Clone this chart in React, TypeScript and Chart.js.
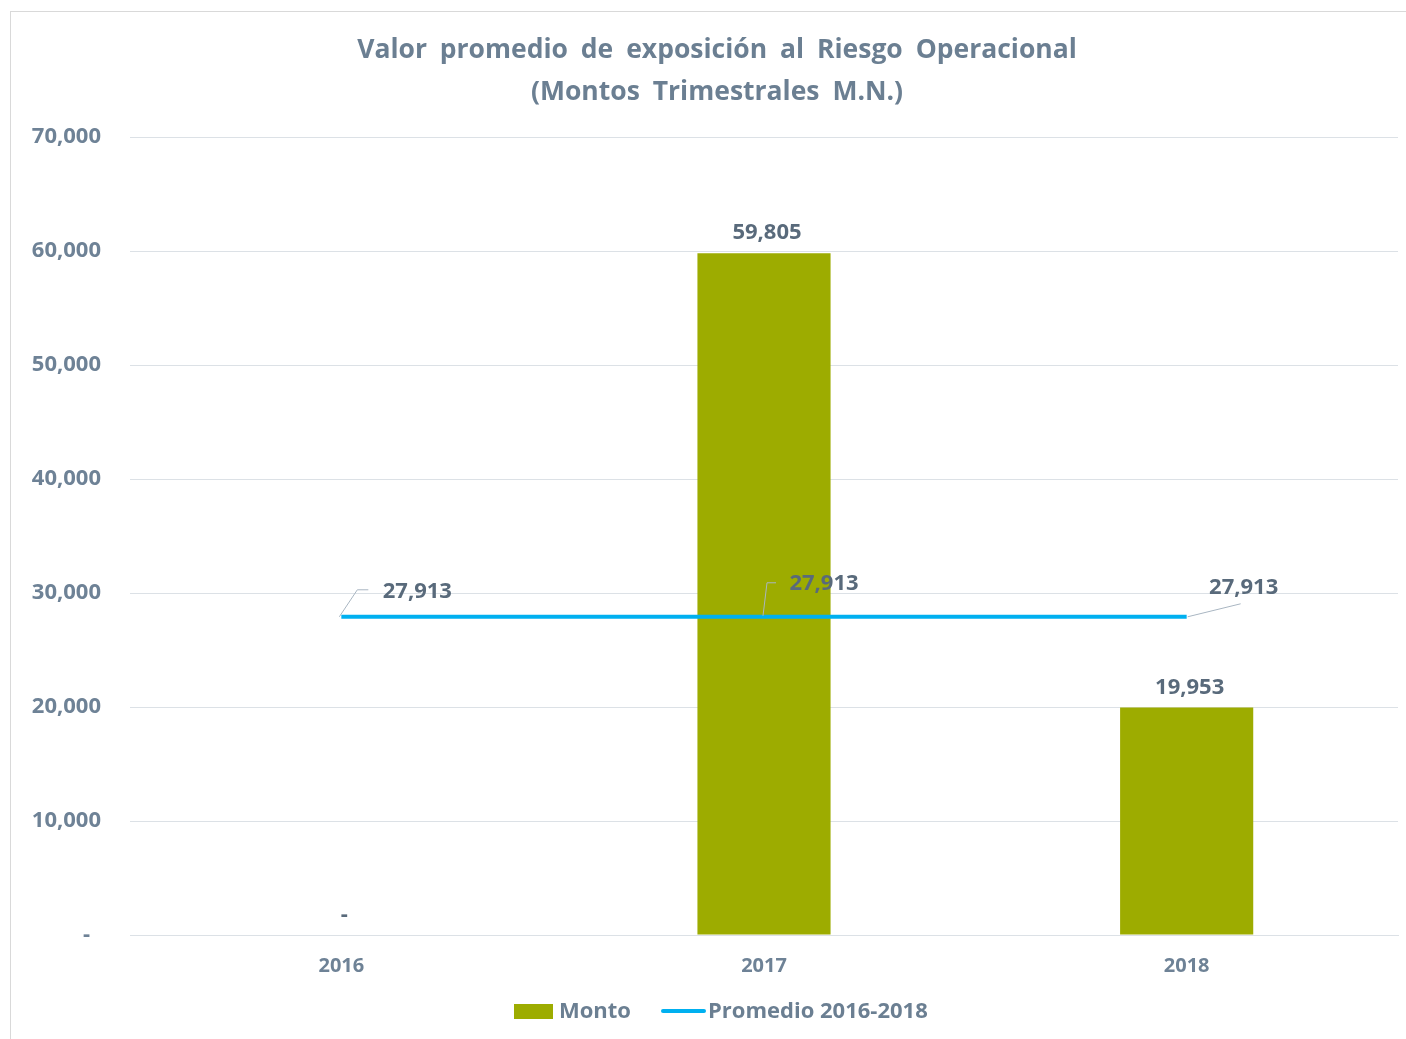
import React, { useEffect, useRef } from "react";
import { Chart, registerables } from "chart.js";

Chart.register(...registerables);

const categories = ["2016", "2017", "2018"];
const montoValues = [0, 59805, 19953];
const promedioValues = [27913, 27913, 27913];
const yTicks = [0, 10000, 20000, 30000, 40000, 50000, 60000, 70000];
const titleLines = ["Valor promedio de exposición al Riesgo Operacional", "(Montos Trimestrales M.N.)"];
const seriesNames = ["Monto", "Promedio 2016-2018"];

const FONT = "'Open Sans', 'Noto Sans', sans-serif";
const TITLE_COLOR = "#6B7F92";
const TICK_COLOR = "#6E8296";
const LABEL_COLOR = "#596A7B";
const GRID_COLOR = "#DCE1E6";
const BAR_COLOR = "#9DAC00";
const LINE_COLOR = "#00B0F0";

const fmt = (v: number) => (v === 0 ? "-" : v.toLocaleString("en-US"));

const titlePlugin = {
  id: "customTitle",
  afterDraw(chart: any) {
    const ctx = chart.ctx;
    ctx.save();
    ctx.font = `bold 26.5px ${FONT}`;
    ctx.fillStyle = TITLE_COLOR;
    ctx.textAlign = "center";
    ctx.textBaseline = "middle";
    try {
      (ctx as any).wordSpacing = "6px";
    } catch (e) {}
    titleLines.forEach((t, i) => ctx.fillText(t, 717, 50 + i * 42));
    ctx.restore();
  },
};

const legendPlugin = {
  id: "customLegend",
  afterDraw(chart: any) {
    const ctx = chart.ctx;
    const ds = chart.data.datasets;
    ctx.save();
    ctx.font = `bold 22px ${FONT}`;
    ctx.fillStyle = TITLE_COLOR;
    ctx.textAlign = "left";
    ctx.textBaseline = "middle";
    const y = 1011;
    ctx.fillStyle = ds[0].backgroundColor;
    ctx.fillRect(514, y - 7, 39, 15);
    ctx.fillStyle = TITLE_COLOR;
    ctx.fillText(ds[0].label, 559, y + 1);
    ctx.strokeStyle = ds[1].borderColor;
    ctx.lineWidth = 4;
    ctx.lineCap = "round";
    ctx.beginPath();
    ctx.moveTo(663, y);
    ctx.lineTo(704, y);
    ctx.stroke();
    ctx.fillStyle = TITLE_COLOR;
    ctx.fillText(ds[1].label, 708, y + 1);
    ctx.restore();
  },
};

const labelsPlugin = {
  id: "customLabels",
  afterDatasetsDraw(chart: any) {
    const ctx = chart.ctx;
    ctx.save();
    ctx.font = `bold 22px ${FONT}`;
    ctx.fillStyle = LABEL_COLOR;
    ctx.textAlign = "center";
    ctx.textBaseline = "middle";
    const barMeta = chart.getDatasetMeta(0);
    barMeta.data.forEach((el: any, i: number) => {
      ctx.fillText(fmt(montoValues[i]), el.x + 3, el.y - 20);
    });
    const lineMeta = chart.getDatasetMeta(1);
    const leaders = [
      { pts: [[-2, 0], [16, -27], [27, -27]], tx: 76, ty: -25 },
      { pts: [[-1, -1], [3, -34], [12, -34]], tx: 60, ty: -33 },
      { pts: [[1, 0], [54, -13]], tx: 57, ty: -29 },
    ];
    lineMeta.data.forEach((el: any, i: number) => {
      const L = leaders[i];
      ctx.strokeStyle = "#A9B6C2";
      ctx.lineWidth = 1;
      ctx.beginPath();
      L.pts.forEach((p: number[], j: number) => {
        const x = el.x + p[0];
        const y = el.y + p[1];
        if (j === 0) ctx.moveTo(x, y);
        else ctx.lineTo(x, y);
      });
      ctx.stroke();
      ctx.fillStyle = LABEL_COLOR;
      ctx.fillText(fmt(promedioValues[i]), el.x + L.tx, el.y + L.ty);
    });
    ctx.restore();
  },
};

export default function App() {
  const canvasRef = useRef<HTMLCanvasElement>(null);

  useEffect(() => {
    if (!canvasRef.current) return;
    Chart.defaults.font.family = FONT;
    const chart = new Chart(canvasRef.current, {
      type: "bar",
      data: {
        labels: categories,
        datasets: [
          {
            type: "bar",
            label: seriesNames[0],
            data: montoValues,
            backgroundColor: BAR_COLOR,
            borderWidth: 0,
            barPercentage: 0.315,
            categoryPercentage: 1,
            order: 1,
          } as any,
          {
            type: "line",
            label: seriesNames[1],
            data: promedioValues,
            borderColor: LINE_COLOR,
            backgroundColor: LINE_COLOR,
            borderWidth: 4,
            pointRadius: 0,
            order: 0,
          } as any,
        ],
      },
      plugins: [labelsPlugin, titlePlugin, legendPlugin],
      options: {
        animation: false,
        responsive: true,
        maintainAspectRatio: false,
        layout: { padding: { left: 0, right: 8, top: 137, bottom: 49 } },
        plugins: {
          tooltip: { enabled: false },
          title: { display: false },
          legend: { display: false },
        },
        scales: {
          x: {
            grid: { display: false, drawTicks: false },
            border: { display: true, color: GRID_COLOR, width: 1 },
            ticks: { color: TICK_COLOR, font: { size: 20, weight: "bold" }, padding: 19 },
            afterFit: (s: any) => {
              s.height = 55;
            },
          },
          y: {
            min: 0,
            max: 70000,
            afterBuildTicks: (s: any) => {
              s.ticks = yTicks.map((v) => ({ value: v }));
            },
            grid: { color: GRID_COLOR, lineWidth: 1, drawTicks: false },
            border: { display: false },
            ticks: {
              color: TICK_COLOR,
              font: { size: 22, weight: "bold" },
              padding: 29,
              callback: (v: any) => (Number(v) === 0 ? "-\u2002" : fmt(Number(v))),
            },
            afterFit: (s: any) => {
              s.width = 130;
            },
          },
        },
      },
    });
    return () => chart.destroy();
  }, []);

  return (
    <div style={{ position: "absolute", left: 0, top: 0, width: 1406, height: 1039, background: "#fff" }}>
      <div style={{ position: "absolute", left: 10, top: 11, width: 1396, height: 1, background: "#D9D9D9" }} />
      <div style={{ position: "absolute", left: 10, top: 11, width: 1, height: 1028, background: "#D9D9D9" }} />
      <canvas ref={canvasRef} style={{ position: "absolute", left: 0, top: 0, width: 1406, height: 1039 }} />
    </div>
  );
}
